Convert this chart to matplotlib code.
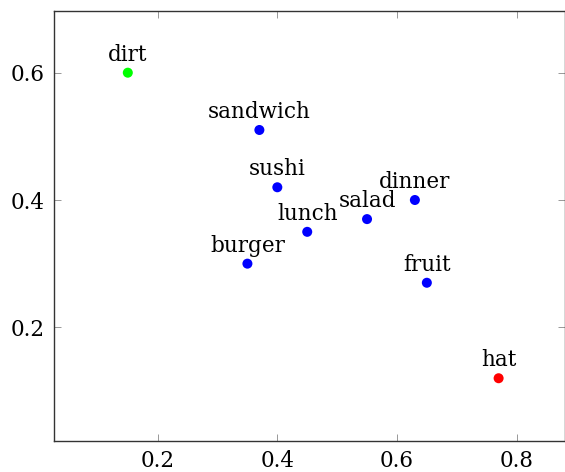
import matplotlib
matplotlib.use("Agg")
import matplotlib.pyplot as plt

# data
labels = ["dirt", "sandwich", "sushi", "dinner", "salad", "lunch", "burger", "fruit", "hat"]
xs = [0.15, 0.37, 0.40, 0.63, 0.55, 0.45, 0.35, 0.65, 0.77]
ys = [0.60, 0.51, 0.42, 0.40, 0.37, 0.35, 0.30, 0.27, 0.12]
colors = ["#00ff00", "blue", "blue", "blue", "blue", "blue", "blue", "blue", "red"]
xticks = [0.2, 0.4, 0.6, 0.8]
yticks = [0.2, 0.4, 0.6]

plt.rcParams['font.family'] = ['DejaVu Serif']

fig = plt.figure(figsize=(5.65, 4.72), dpi=100)
ax = fig.add_axes([54 / 565, 31 / 472, 511 / 565, 430.5 / 472])

ax.scatter(xs, ys, c=colors, s=52, zorder=3, linewidths=0)
for lab, x, y in zip(labels, xs, ys):
	ax.annotate(lab, (x, y), xytext=(0, 8.5), textcoords='offset points',
				ha='center', va='baseline', fontsize=15.5)

ax.set_xlim(0.0266, 0.881)
ax.set_ylim(0.0214, 0.6977)
ax.set_xticks(xticks)
ax.set_yticks(yticks)
ax.set_xticklabels([str(t) for t in xticks])
ax.set_yticklabels([str(t) for t in yticks])
ax.tick_params(direction='in', top=True, right=True, length=5, width=0.6,
			   color='#888888', labelsize=15.5, pad=6.5)
for sp in ax.spines.values():
	sp.set_linewidth(1.0)
	sp.set_color('#333333')

fig.savefig("out.png", dpi=100)
